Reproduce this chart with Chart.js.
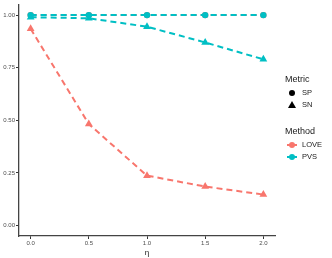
<!DOCTYPE html>
<html>
<head>
<meta charset="utf-8">
<script src="https://cdn.jsdelivr.net/npm/chart.js@4"></script>
<style>
  body { margin: 0; background: #fff; }
  #wrap { position: relative; width: 332px; height: 258px; }
  .legend { position: absolute; left: 285px; font-family: "Liberation Sans", Arial, sans-serif; color: #1a1a1a; }
  .legend .title { font-size: 9px; margin-bottom: 3px; }
  .legend .row { font-size: 7.5px; height: 12px; line-height: 12px; }
  .legend canvas { vertical-align: middle; margin-right: 3px; }
</style>
</head>
<body>
<div id="wrap">
  <canvas id="chartContainer" width="332" height="258"></canvas>
  <div class="legend" style="top:74px">
    <div class="title">Metric</div>
    <div class="row"><canvas class="sym" data-shape="circle" data-color="#000" width="14" height="12"></canvas>SP</div>
    <div class="row"><canvas class="sym" data-shape="triangle" data-color="#000" width="14" height="12"></canvas>SN</div>
  </div>
  <div class="legend" style="top:126px">
    <div class="title">Method</div>
    <div class="row"><canvas class="sym" data-shape="circle" data-color="#F8766D" data-line="1" width="14" height="12"></canvas>LOVE</div>
    <div class="row"><canvas class="sym" data-shape="circle" data-color="#00BFC4" data-line="1" width="14" height="12"></canvas>PVS</div>
  </div>
</div>
<script>
"use strict";

// values
const eta = [0, 0.5, 1, 1.5, 2];
const loveSP = [1.0, 1.0, 1.0, 1.0, 1.0];
const loveSN = [0.935, 0.482, 0.237, 0.185, 0.147];
const pvsSP = [1.0, 1.0, 1.0, 1.0, 1.0];
const pvsSN = [0.99, 0.985, 0.945, 0.87, 0.79];
const xTicks = [0, 0.5, 1, 1.5, 2];
const yTicks = [0, 0.25, 0.5, 0.75, 1];

const red = "#F8766D";
const teal = "#00BFC4";

function toPoints(values) {
  return eta.map((x, i) => ({ x: x, y: values[i] }));
}

function makeSet(label, values, color, shape, order) {
  return {
    label: label,
    data: toPoints(values),
    borderColor: color,
    backgroundColor: color,
    borderWidth: 2,
    borderDash: [6, 4],
    pointStyle: shape,
    pointRadius: shape === "triangle" ? 4.5 : 3.2,
    pointBorderWidth: 0,
    order: order
  };
}

const tickFont = { family: "Liberation Sans", size: 6 };

new Chart(document.getElementById("chartContainer"), {
  type: "line",
  data: {
    datasets: [
      makeSet("LOVE SP", loveSP, red, "circle", 4),
      makeSet("LOVE SN", loveSN, red, "triangle", 3),
      makeSet("PVS SP", pvsSP, teal, "circle", 1),
      makeSet("PVS SN", pvsSN, teal, "triangle", 2)
    ]
  },
  options: {
    responsive: false,
    animation: false,
    layout: { padding: { left: 0, right: 57, top: 3, bottom: 0 } },
    plugins: { legend: { display: false }, tooltip: { enabled: false } },
    scales: {
      x: {
        type: "linear",
        min: -0.1,
        max: 2.1,
        afterBuildTicks: (s) => { s.ticks = xTicks.map(v => ({ value: v })); },
        afterFit: (s) => { s.height = 22; },
        ticks: {
          color: "#4d4d4d",
          font: tickFont,
          padding: 1,
          maxRotation: 0,
          callback: (v) => Number(v).toFixed(1)
        },
        grid: { drawOnChartArea: false, tickLength: 3, color: "#333" },
        border: { display: true, color: "#444", width: 1.3 },
        title: {
          display: true,
          text: "η",
          color: "#1a1a1a",
          font: { family: "Liberation Sans", size: 8 },
          padding: { top: 0, bottom: 0 }
        }
      },
      y: {
        type: "linear",
        min: -0.05,
        max: 1.05,
        afterBuildTicks: (s) => { s.ticks = yTicks.map(v => ({ value: v })); },
        afterFit: (s) => { s.width = 19; },
        ticks: {
          color: "#4d4d4d",
          font: tickFont,
          padding: 1,
          callback: (v) => Number(v).toFixed(2)
        },
        grid: { drawOnChartArea: false, tickLength: 3, color: "#333" },
        border: { display: true, color: "#444", width: 1.3 }
      }
    }
  }
});

// little legend keys
document.querySelectorAll("canvas.sym").forEach((c) => {
  const ctx = c.getContext("2d");
  const col = c.dataset.color;
  ctx.fillStyle = col;
  ctx.strokeStyle = col;
  if (c.dataset.line) {
    ctx.lineWidth = 2;
    ctx.beginPath();
    ctx.moveTo(2, 6);
    ctx.lineTo(12, 6);
    ctx.stroke();
  }
  ctx.beginPath();
  if (c.dataset.shape === "circle") {
    ctx.arc(7, 6, 3, 0, Math.PI * 2);
  } else {
    ctx.moveTo(7, 2);
    ctx.lineTo(11, 9);
    ctx.lineTo(3, 9);
    ctx.closePath();
  }
  ctx.fill();
});
</script>
</body>
</html>
